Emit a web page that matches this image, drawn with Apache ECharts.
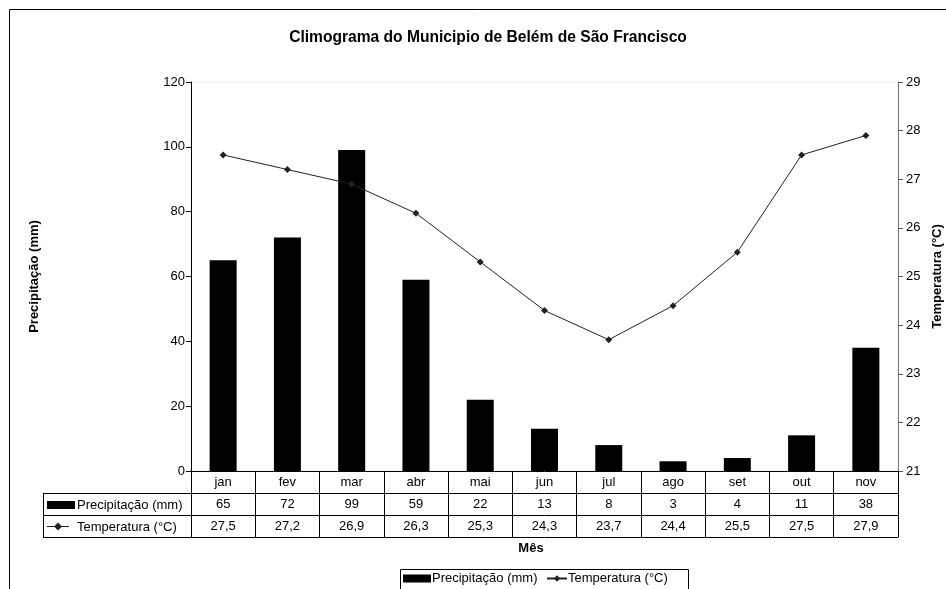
<!DOCTYPE html>
<html><head><meta charset="utf-8">
<script src="https://cdn.jsdelivr.net/npm/echarts@6/dist/echarts.min.js"></script>
<style>html,body{margin:0;padding:0;background:#fff}#c{width:946px;height:589px}</style>
</head><body><div id="c"></div>
<script>
const months = ['jan','fev','mar','abr','mai','jun','jul','ago','set','out','nov'];
const precipitacao = [65,72,99,59,22,13,8,3,4,11,38];
const temperatura = [27.5,27.2,26.9,26.3,25.3,24.3,23.7,24.4,25.5,27.5,27.9];
const precipTicks = {min:0, max:120, interval:20};
const tempTicks = {min:21, max:29, interval:1};

const FONT = '"Liberation Sans", Arial, sans-serif';
const chart = echarts.init(document.getElementById('c'));
const fmt = v => String(v).replace('.', ',');
const baseX = {type:'category', data:months, gridIndex:0, position:'bottom', boundaryGap:true,
  axisLine:{show:true, lineStyle:{color:'#000', width:1}},
  axisTick:{show:false}, splitLine:{show:false}};
const lbl = {interval:0, fontSize:13, fontFamily:FONT, color:'#000', margin:5};

chart.setOption({
  animation:false,
  backgroundColor:'#fff',
  textStyle:{fontFamily:FONT},
  title:{text:'Climograma do Municipio de Belém de São Francisco', left:483, top:25, textAlign:'center',
    textStyle:{fontSize:15.6, fontWeight:'bold', color:'#000', fontFamily:FONT}},
  grid:{left:191, right:48, top:82, bottom:118, show:true, borderColor:'#ececec', borderWidth:1,
    containLabel:false, outerBoundsMode:'none'},
  legend:[
    {data:[{name:'Precipitação (mm)', icon:'rect'}], left:403, top:572, padding:0, itemWidth:28, itemHeight:8, itemGap:2,
      textStyle:{fontSize:13, fontFamily:FONT, color:'#000', padding:[0,0,0,-4]}},
    {data:['Temperatura (°C)'], left:546, top:572, padding:0, itemWidth:20, itemHeight:8,
      textStyle:{fontSize:13, fontFamily:FONT, color:'#000', padding:[0,0,0,-4]}}
  ],
  xAxis:[
    Object.assign({}, baseX, {axisTick:{show:true, length:66, alignWithLabel:false, lineStyle:{color:'#000'}},
      axisLabel:Object.assign({}, lbl)}),
    Object.assign({}, baseX, {offset:22, axisLabel:Object.assign({}, lbl, {formatter:(v,i)=>String(precipitacao[i])})}),
    Object.assign({}, baseX, {offset:44, axisLabel:Object.assign({}, lbl, {formatter:(v,i)=>fmt(temperatura[i])})}),
    Object.assign({}, baseX, {offset:66, axisLabel:{show:false}})
  ],
  yAxis:[
    {type:'value', min:precipTicks.min, max:precipTicks.max, interval:precipTicks.interval, position:'left',
      name:'Precipitação (mm)', nameLocation:'middle', nameGap:150,
      nameTextStyle:{fontSize:13, fontWeight:'bold', color:'#000', fontFamily:FONT},
      axisLine:{show:true, lineStyle:{color:'#000', width:1}},
      axisTick:{show:true, length:5, lineStyle:{color:'#000'}},
      axisLabel:{fontSize:13, color:'#000', fontFamily:FONT, margin:6},
      splitLine:{show:false}},
    {type:'value', min:tempTicks.min, max:tempTicks.max, interval:tempTicks.interval, position:'right',
      name:'Temperatura (°C)', nameLocation:'middle', nameGap:31,
      nameTextStyle:{fontSize:13, fontWeight:'bold', color:'#000', fontFamily:FONT},
      axisLine:{show:true, lineStyle:{color:'#777', width:1}},
      axisTick:{show:true, length:5, lineStyle:{color:'#555'}},
      axisLabel:{fontSize:13, color:'#000', fontFamily:FONT, margin:8},
      splitLine:{show:false}}
  ],
  series:[
    {name:'Precipitação (mm)', type:'bar', data:precipitacao, xAxisIndex:0, yAxisIndex:0,
      barWidth:'42%', itemStyle:{color:'#000'}},
    {name:'Temperatura (°C)', type:'line', data:temperatura, xAxisIndex:0, yAxisIndex:1,
      symbol:'diamond', symbolSize:7, lineStyle:{color:'#222', width:1}, itemStyle:{color:'#222'}}
  ],
  graphic:[
    {type:'rect', shape:{x:9.5, y:9.5, width:1000, height:1000}, style:{fill:'none', stroke:'#000', lineWidth:1}, silent:true},
    {type:'line', shape:{x1:43, y1:493.5, x2:191, y2:493.5}, style:{stroke:'#000', lineWidth:1}},
    {type:'line', shape:{x1:43, y1:515.5, x2:191, y2:515.5}, style:{stroke:'#000', lineWidth:1}},
    {type:'line', shape:{x1:43, y1:537.5, x2:191, y2:537.5}, style:{stroke:'#000', lineWidth:1}},
    {type:'line', shape:{x1:43.5, y1:493, x2:43.5, y2:538}, style:{stroke:'#000', lineWidth:1}},
    {type:'rect', shape:{x:47, y:501, width:28, height:8}, style:{fill:'#000'}},
    {type:'text', x:77, y:505, style:{text:'Precipitação (mm)', fontSize:13, fontFamily:FONT, fill:'#000', verticalAlign:'middle'}},
    {type:'line', shape:{x1:47, y1:526.5, x2:69, y2:526.5}, style:{stroke:'#222', lineWidth:1}},
    {type:'polygon', shape:{points:[[58,522.5],[62,526.5],[58,530.5],[54,526.5]]}, style:{fill:'#222'}},
    {type:'text', x:77, y:527, style:{text:'Temperatura (°C)', fontSize:13, fontFamily:FONT, fill:'#000', verticalAlign:'middle'}},
    {type:'text', x:531, y:548, style:{text:'Mês', fontSize:13, fontWeight:'bold', fontFamily:FONT, fill:'#000', align:'center', verticalAlign:'middle'}},
    {type:'rect', shape:{x:400.5, y:569.5, width:288, height:30}, style:{fill:'none', stroke:'#000', lineWidth:1}, silent:true}
  ]
});
</script></body></html>
